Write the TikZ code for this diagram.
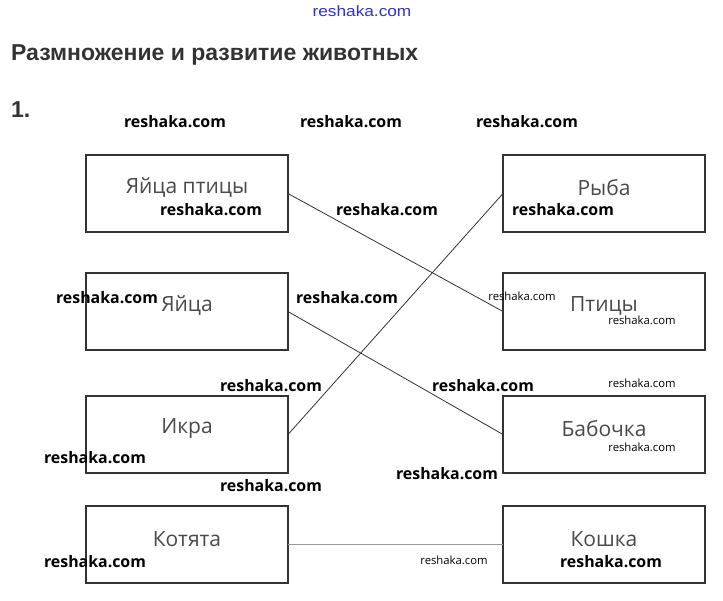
\documentclass[tikz,border=0pt]{standalone}
\usepackage{fontspec}
\setmainfont{Open Sans}
\newfontfamily\titlefont{Liberation Sans}
\newfontfamily\wmfont{Open Sans}
\definecolor{boxc}{HTML}{333333}
\definecolor{txtc}{HTML}{4A4A4A}
\definecolor{titlec}{HTML}{333333}
\definecolor{linec}{HTML}{333333}
\definecolor{greyline}{HTML}{999999}
\definecolor{bluewm}{HTML}{3030D0}
\tikzset{
  box/.style={draw=boxc, line width=2pt, minimum width=202pt, minimum height=77pt, inner sep=0pt, outer sep=0pt},
  lbl/.style={text=txtc, font=\fontsize{21}{21}\selectfont, inner sep=0pt, anchor=center},
  conn/.style={draw=linec, line width=0.8pt},
  wmbig/.style={font=\wmfont\bfseries\fontsize{15.9}{15.9}\selectfont, inner sep=0pt, text=black},
  wmsmall/.style={font=\wmfont\fontsize{11.3}{11.3}\selectfont, inner sep=0pt, text=black},
}
\begin{document}
\begin{tikzpicture}[x=1pt,y=-1pt]
\useasboundingbox (0,0) rectangle (723,600);
\fill[white] (0,0) rectangle (723,600);
% header
\node[text=bluewm, font=\titlefont\fontsize{15}{15}\selectfont, inner sep=0pt, xscale=1.15] (topwm) at (362,11) {reshaka.com};
\node[text=titlec, font=\titlefont\bfseries\fontsize{23}{23}\selectfont, inner sep=0pt, anchor=west] (title) at (11,55) {Размножение и развитие животных};
\node[text=titlec, font=\titlefont\bfseries\fontsize{23}{23}\selectfont, inner sep=0pt, anchor=west] (num) at (11,110) {1.};
% boxes left
\node[box] (a1) at (187,193.5) {};
\node[box] (a2) at (187,311.5) {};
\node[box] (a3) at (187,434.5) {};
\node[box] (a4) at (187,544.5) {};
% boxes right
\node[box] (b1) at (604,193.5) {};
\node[box] (b2) at (604,311.5) {};
\node[box] (b3) at (604,434.5) {};
\node[box] (b4) at (604,544.5) {};
% labels
\node[lbl] (la1) at (187,188) {Яйца птицы};
\node[lbl] (la2) at (187,306) {Яйца};
\node[lbl] (la3) at (187,429) {Икра};
\node[lbl] (la4) at (187,539) {Котята};
\node[lbl] (lb1) at (604,188) {Рыба};
\node[lbl] (lb2) at (604,306) {Птицы};
\node[lbl] (lb3) at (604,429) {Бабочка};
\node[lbl] (lb4) at (604,539) {Кошка};
% connectors
\draw[conn] (a1.east) -- (b2.west);
\draw[conn] (a2.east) -- (b3.west);
\draw[conn] (a3.east) -- (b1.west);
\draw[draw=greyline, line width=1.2pt] (a4.east) -- (b4.west);
% watermarks
\node[wmbig] (w1) at (175,122) {reshaka.com};
\node[wmbig] (w2) at (351,122) {reshaka.com};
\node[wmbig] (w3) at (527,122) {reshaka.com};
\node[wmbig] (w4) at (211,210) {reshaka.com};
\node[wmbig] (w5) at (387,210) {reshaka.com};
\node[wmbig] (w6) at (563,210) {reshaka.com};
\node[wmbig] (w7) at (107,298) {reshaka.com};
\node[wmbig] (w8) at (347,298) {reshaka.com};
\node[wmsmall] (w9) at (522,296) {reshaka.com};
\node[wmsmall] (w10) at (642,320) {reshaka.com};
\node[wmbig] (w11) at (271,386) {reshaka.com};
\node[wmbig] (w12) at (483,386) {reshaka.com};
\node[wmsmall] (w13) at (642,383) {reshaka.com};
\node[wmbig] (w14) at (95,458) {reshaka.com};
\node[wmsmall] (w15) at (642,447) {reshaka.com};
\node[wmbig] (w16) at (271,486) {reshaka.com};
\node[wmbig] (w17) at (447,474) {reshaka.com};
\node[wmbig] (w18) at (95,562) {reshaka.com};
\node[wmsmall] (w19) at (454,560) {reshaka.com};
\node[wmbig] (w20) at (611,562) {reshaka.com};
\end{tikzpicture}
\end{document}
